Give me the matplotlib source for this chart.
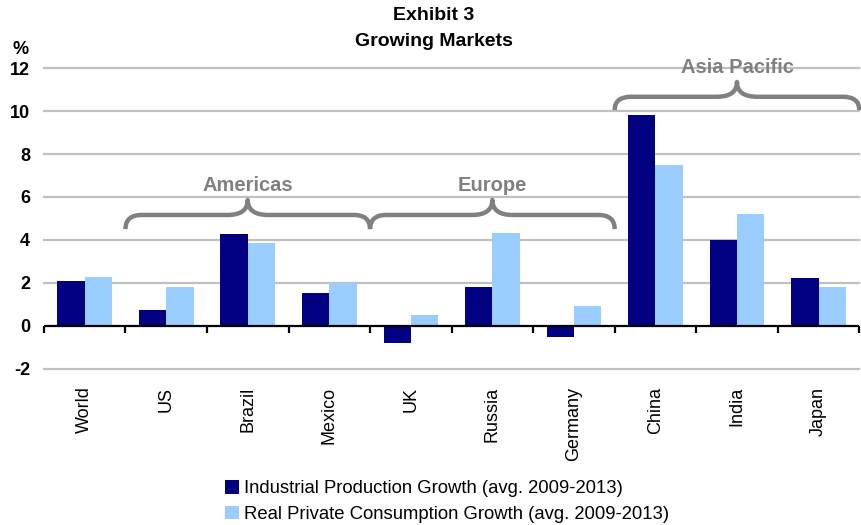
import matplotlib
matplotlib.use("Agg")
import matplotlib.pyplot as plt
from matplotlib.path import Path
from matplotlib.patches import PathPatch, Patch
import numpy as np

plt.rcParams['font.family'] = ['Liberation Sans', 'DejaVu Sans']
plt.rcParams['axes.unicode_minus'] = False

# ---- data -------------------------------------------------------------
countries = ["World", "US", "Brazil", "Mexico", "UK", "Russia",
             "Germany", "China", "India", "Japan"]
industrial = [2.1, 0.75, 4.25, 1.5, -0.8, 1.8, -0.55, 9.8, 4.0, 2.2]
consumption = [2.25, 1.8, 3.85, 2.0, 0.5, 4.3, 0.9, 7.5, 5.2, 1.8]
series_labels = ["Industrial Production Growth (avg. 2009-2013)",
                 "Real Private Consumption Growth (avg. 2009-2013)"]
y_ticks = [-2, 0, 2, 4, 6, 8, 10, 12]
y_tick_labels = ["-2", "0", "2", "4", "6", "8", "10", "12"]

# regional groupings: (label, first index, last index)
regions = [("Americas", 1, 3), ("Europe", 4, 6), ("Asia Pacific", 7, 9)]

DARK = "#000080"
LIGHT = "#99CCFF"
GREY = "#808080"

fig = plt.figure(figsize=(8.61, 5.25), dpi=100)
ax = fig.add_axes([0.051, 0.298, 0.947, 0.572])

x = np.arange(len(countries))
w = 0.335
ax.bar(x - w / 2, industrial, w, color=DARK, zorder=3)
ax.bar(x + w / 2, consumption, w, color=LIGHT, zorder=3)

ax.set_xlim(-0.5, len(countries) - 0.5)
ax.set_ylim(-2, 12)

# horizontal gridlines
for yv in y_ticks:
    if yv != 0:
        ax.axhline(yv, color="#C0C0C0", lw=1.6, zorder=1, clip_on=False)
ax.axhline(0, color="black", lw=1.6, zorder=4)
# category separators on the zero line
bounds = np.arange(len(countries) + 1) - 0.5
ax.vlines(bounds, -0.32, 0, color="black", lw=1.6, zorder=4, clip_on=False)

for s in ax.spines.values():
    s.set_visible(False)

ax.set_yticks(y_ticks)
ax.set_yticklabels(y_tick_labels, fontsize=13, fontweight="bold")
ax.tick_params(axis="y", length=0, pad=10)
ax.set_xticks(x)
ax.set_xticklabels(countries, rotation=90, fontsize=13, va="top", ha="center")
ax.tick_params(axis="x", length=0, pad=13)

ax.text(-0.019, 12.48, "%", transform=ax.get_yaxis_transform(),
        ha="right", va="bottom", fontsize=13, fontweight="bold")


def draw_brace(ax, x0, x1, y_end, y_h, y_tip, rx=0.2, rt=0.25):
    xm = (x0 + x1) / 2
    verts = [(x0, y_end), (x0, y_h), (x0 + rx, y_h),
             (xm - rt, y_h),
             (xm, y_h), (xm, y_tip),
             (xm, y_h), (xm + rt, y_h),
             (x1 - rx, y_h),
             (x1, y_h), (x1, y_end)]
    codes = [Path.MOVETO, Path.CURVE3, Path.CURVE3,
             Path.LINETO,
             Path.CURVE3, Path.CURVE3,
             Path.CURVE3, Path.CURVE3,
             Path.LINETO,
             Path.CURVE3, Path.CURVE3]
    ax.add_patch(PathPatch(Path(verts, codes), fill=False, edgecolor=GREY,
                           lw=3.2, capstyle="butt", joinstyle="round",
                           zorder=5, clip_on=False))
    return xm


brace_levels = {"Americas": (4.5, 5.16, 5.86, 6.55),
                "Europe": (4.5, 5.16, 5.86, 6.55),
                "Asia Pacific": (10.05, 10.67, 11.36, 12.05)}
for name, i0, i1 in regions:
    y_end, y_h, y_tip, y_txt = brace_levels[name]
    xm = draw_brace(ax, i0 - 0.5, i1 + 0.5, y_end, y_h, y_tip)
    ax.text(xm, y_txt, name, ha="center", va="center", fontsize=14.5,
            fontweight="bold", color=GREY, zorder=6, clip_on=False)

fig.text(434 / 861, 1 - 16 / 525, "Exhibit 3", ha="center", va="center",
         fontsize=14, fontweight="bold")
fig.text(434 / 861, 1 - 41 / 525, "Growing Markets", ha="center", va="center",
         fontsize=14, fontweight="bold")

handles = [Patch(facecolor=DARK, edgecolor="none"),
           Patch(facecolor=LIGHT, edgecolor="none")]
fig.legend(handles, series_labels, loc="upper left",
           bbox_to_anchor=(225 / 861, 1 - 480 / 525), frameon=False,
           fontsize=13.3, handlelength=0.75, handleheight=0.75,
           handletextpad=0.3, labelspacing=0.45, borderaxespad=0,
           borderpad=0)

fig.savefig("out.png", dpi=100)
